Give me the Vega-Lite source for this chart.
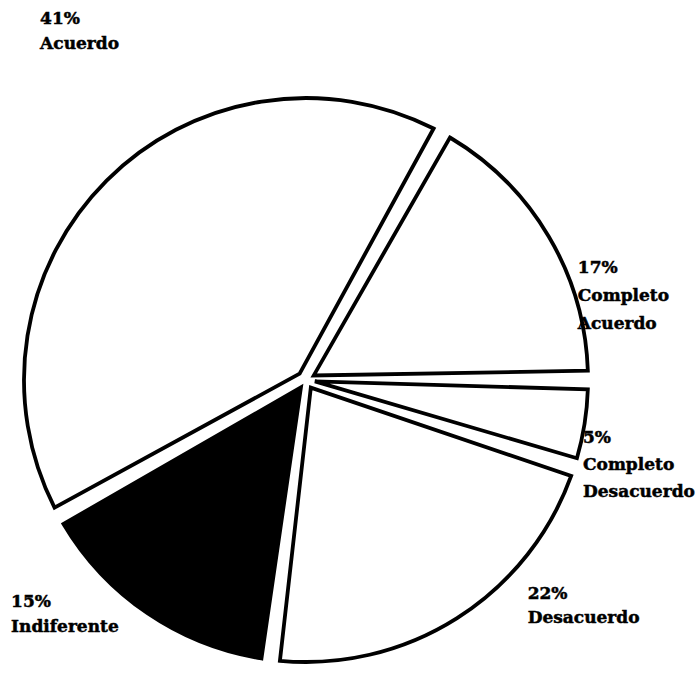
{
  "$schema": "https://vega.github.io/schema/vega-lite/v6.json",
  "width": 612,
  "height": 630,
  "autosize": {"type": "none"},
  "padding": {"left": 0, "top": 65, "right": 86, "bottom": 0},
  "background": "white",
  "config": {"view": {"stroke": null}, "text": {"stroke": "black", "strokeWidth": 0.5}},
  "data": {
    "values": [
      {"categoria": "Completo Desacuerdo", "pct": 5, "etiqueta": "5%\nCompleto\nDesacuerdo"},
      {"categoria": "Desacuerdo", "pct": 22, "etiqueta": "22%\nDesacuerdo"},
      {"categoria": "Indiferente", "pct": 15, "etiqueta": "15%\nIndiferente"},
      {"categoria": "Acuerdo", "pct": 41, "etiqueta": "41%\nAcuerdo"},
      {"categoria": "Completo Acuerdo", "pct": 17, "etiqueta": "17%\nCompleto\nAcuerdo"}
    ]
  },
  "transform": [
    {"stack": "pct", "groupby": [], "as": ["s0", "s1"]},
    {"calculate": "(datum.s0 + datum.s1) / 2", "as": "mid"}
  ],
  "layer": [
    {
      "mark": {"type": "arc", "outerRadius": 282, "innerRadius": 9, "padAngle": 0.066, "stroke": "black", "strokeWidth": 3.8, "strokeJoin": "miter"},
      "encoding": {
        "theta": {"field": "s0", "type": "quantitative", "scale": {"domain": [0, 100], "range": [1.5708, 7.854]}},
        "theta2": {"field": "s1"},
        "fill": {"condition": {"test": "datum.categoria === 'Indiferente'", "value": "black"}, "value": "white"}
      }
    },
    {
      "transform": [{"filter": "datum.categoria === 'Completo Desacuerdo'"}],
      "mark": {"type": "text", "radius": 283, "thetaOffset": 0.049, "align": "left", "baseline": "middle", "lineBreak": "\n", "lineHeight": 27, "font": "DejaVu Serif", "fontWeight": "bold", "fontSize": 17, "fill": "black"},
      "encoding": {"theta": {"field": "mid", "type": "quantitative"}, "text": {"field": "etiqueta"}}
    },
    {
      "transform": [{"filter": "datum.categoria === 'Desacuerdo'"}],
      "mark": {"type": "text", "radius": 308, "thetaOffset": -0.238, "align": "left", "baseline": "middle", "lineBreak": "\n", "lineHeight": 24, "font": "DejaVu Serif", "fontWeight": "bold", "fontSize": 17, "fill": "black"},
      "encoding": {"theta": {"field": "mid", "type": "quantitative"}, "text": {"field": "etiqueta"}}
    },
    {
      "transform": [{"filter": "datum.categoria === 'Indiferente'"}],
      "mark": {"type": "text", "radius": 369, "thetaOffset": 0.329, "align": "left", "baseline": "middle", "lineBreak": "\n", "lineHeight": 25, "font": "DejaVu Serif", "fontWeight": "bold", "fontSize": 17, "fill": "black"},
      "encoding": {"theta": {"field": "mid", "type": "quantitative"}, "text": {"field": "etiqueta"}}
    },
    {
      "transform": [{"filter": "datum.categoria === 'Acuerdo'"}],
      "mark": {"type": "text", "radius": 448, "thetaOffset": 0.150, "align": "left", "baseline": "middle", "lineBreak": "\n", "lineHeight": 25, "font": "DejaVu Serif", "fontWeight": "bold", "fontSize": 17, "fill": "black"},
      "encoding": {"theta": {"field": "mid", "type": "quantitative"}, "text": {"field": "etiqueta"}}
    },
    {
      "transform": [{"filter": "datum.categoria === 'Completo Acuerdo'"}],
      "mark": {"type": "text", "radius": 294, "thetaOffset": 0.143, "align": "left", "baseline": "middle", "lineBreak": "\n", "lineHeight": 28, "font": "DejaVu Serif", "fontWeight": "bold", "fontSize": 17, "fill": "black"},
      "encoding": {"theta": {"field": "mid", "type": "quantitative"}, "text": {"field": "etiqueta"}}
    }
  ]
}
